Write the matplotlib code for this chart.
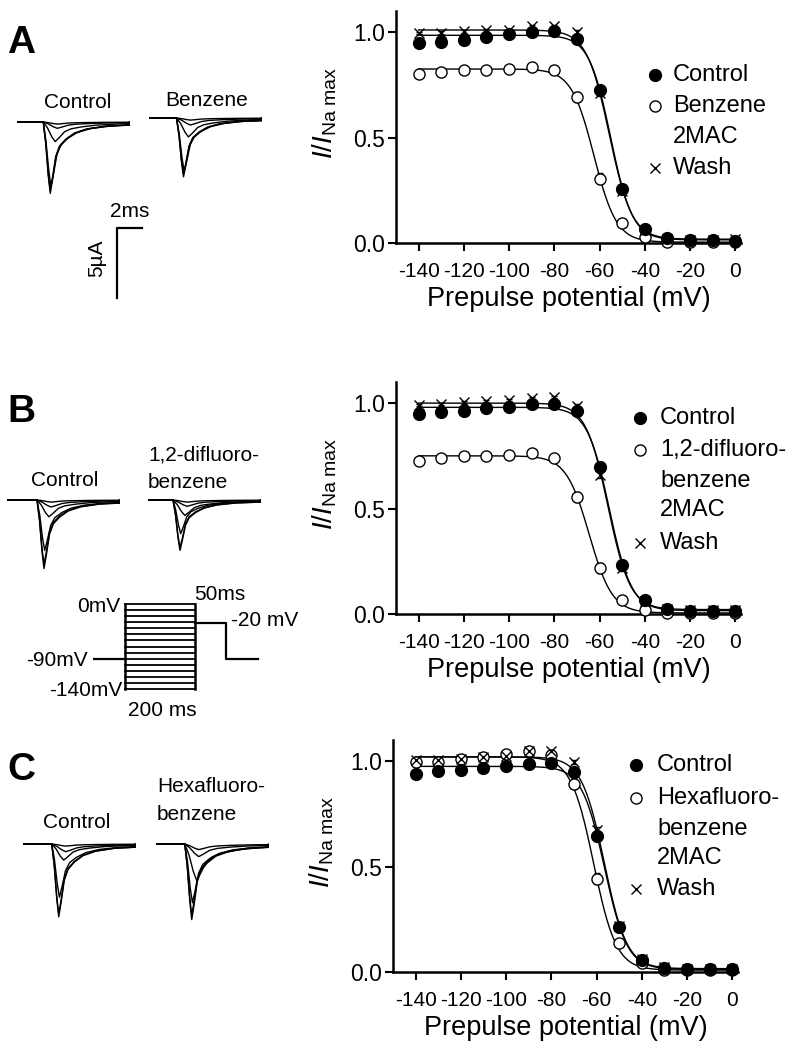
import numpy as np
import matplotlib
matplotlib.use('Agg')
from matplotlib import pyplot as plt

plt.rcParams['font.family'] = ['Liberation Sans', 'DejaVu Sans']
plt.rcParams['mathtext.fontset'] = 'custom'
plt.rcParams['mathtext.it'] = 'Liberation Sans:italic'
plt.rcParams['mathtext.rm'] = 'Liberation Sans'
plt.rcParams['axes.unicode_minus'] = False

W, H = 800, 1056

# ---- steady-state inactivation data (I/I_Na max vs prepulse, mV) ----
volts = [-140, -130, -120, -110, -100, -90, -80, -70, -60, -50, -40, -30, -20, -10, 0]

a_ctrl = [0.948, 0.954, 0.964, 0.976, 0.989, 1.0, 1.005, 0.968, 0.724, 0.256, 0.066, 0.024, 0.016, 0.013, 0.008]
a_drug = [0.803, 0.809, 0.818, 0.821, 0.826, 0.834, 0.821, 0.692, 0.305, 0.095, 0.028, 0.005, 0.004, 0.005, 0.004]
a_wash = [0.995, 0.998, 1.003, 1.008, 1.011, 1.03, 1.03, 1.0, 0.711, 0.245, 0.063, 0.019, 0.016, 0.016, 0.019]

b_ctrl = [0.948, 0.956, 0.964, 0.975, 0.981, 0.994, 0.997, 0.964, 0.695, 0.234, 0.065, 0.024, 0.016, 0.016, 0.016]
b_drug = [0.727, 0.739, 0.747, 0.75, 0.754, 0.761, 0.739, 0.555, 0.218, 0.065, 0.021, 0.005, 0.005, 0.005, 0.005]
b_wash = [0.992, 0.997, 1.003, 1.009, 1.016, 1.024, 1.028, 0.984, 0.66, 0.218, 0.06, 0.024, 0.021, 0.021, 0.021]

c_ctrl = [0.94, 0.951, 0.956, 0.967, 0.976, 0.987, 0.991, 0.948, 0.647, 0.211, 0.057, 0.019, 0.016, 0.013, 0.013]
c_drug = [0.995, 0.998, 1.008, 1.021, 1.035, 1.046, 1.027, 0.893, 0.443, 0.136, 0.041, 0.009, 0.009, 0.009, 0.009]
c_wash = [1.003, 1.003, 1.011, 1.019, 1.022, 1.047, 1.047, 0.995, 0.672, 0.218, 0.063, 0.022, 0.016, 0.016, 0.016]

# small SEMs, mostly hidden under the symbols
sem_ctrl = [0.01, 0.01, 0.01, 0.01, 0.01, 0.01, 0.01, 0.015, 0.02, 0.02, 0.01, 0.01, 0.005, 0.005, 0.005]
sem_drug = [0.01, 0.01, 0.01, 0.01, 0.01, 0.01, 0.015, 0.025, 0.025, 0.015, 0.01, 0.005, 0.005, 0.005, 0.005]
sem_wash = [0.005, 0.005, 0.005, 0.005, 0.005, 0.005, 0.005, 0.01, 0.015, 0.015, 0.01, 0.005, 0.005, 0.005, 0.005]

# Boltzmann fits: top, bottom, V1/2 (mV), slope k (mV)
a_fits = [[0.985, 0.015, -55.1, 4.8], [0.825, 0.004, -62.5, 5.0], [1.01, 0.018, -55.7, 5.0]]
b_fits = [[0.98, 0.016, -55.7, 4.9], [0.75, 0.005, -64.6, 5.1], [1.0, 0.021, -56.3, 4.9]]
c_fits = [[0.975, 0.013, -56.5, 5.0], [1.02, 0.009, -61.3, 5.0], [1.02, 0.016, -56.6, 5.0]]

a_names = ['Control', 'Benzene', '2MAC', 'Wash']
b_names = ['Control', '1,2-difluoro-', 'benzene', '2MAC', 'Wash']
c_names = ['Control', 'Hexafluoro-', 'benzene', '2MAC', 'Wash']

# ---- Na current traces ----
# normalised shape of the largest trace, time from onset (ms)
wave_t = [-3.0, 0.0, 0.2, 0.4, 0.56, 0.75, 1.0, 1.3, 1.8, 2.5, 3.5, 5.0, 7.2]
wave_i = [0.0, 0.0, -0.3, -0.75, -1.0, -0.8, -0.5, -0.35, -0.25, -0.16, -0.1, -0.06, -0.04]

# peak amplitudes (uA) and time stretch of each trace in a family
a_ctrl_amp = [5.1, 4.9, 4.6, 1.4, 0.45, 0.15]
a_drug_amp = [4.2, 4.0, 3.8, 1.35, 0.5, 0.15]
b_ctrl_amp = [4.9, 4.6, 3.6, 1.2, 0.5, 0.15]
b_drug_amp = [3.6, 3.4, 2.4, 1.1, 0.45, 0.15]
c_ctrl_amp = [5.2, 5.0, 3.8, 1.15, 0.55, 0.15]
c_drug_amp = [5.4, 5.1, 4.2, 2.6, 0.9, 0.4]
stretch = [1.0, 1.0, 1.1, 1.7, 2.0, 2.0]

# pulse protocol (schematic)
pre_levels = [0, -10, -20, -30, -40, -50, -60, -70, -80, -90, -100, -110, -120, -130, -140]
hold_mv = -90
test_mv = -32   # drawn level of the "-20 mV" step
t_pre = [0, 200]
t_hold = [-90, 0]
t_test = [200, 290]
t_end = 380


def box(left, top, width, height):
    return [left / W, 1 - (top + height) / H, width / W, height / H]


def fx(x):
    return x / W


def fy(y):
    return 1 - y / H


fig = plt.figure(figsize=(8, 10.56), dpi=100)


def traces(left, baseline, onset, amps):
    ax = fig.add_axes(box(left, baseline - 7, 112.5, 91))
    ax.set_xlim(0, 9)
    ax.set_ylim(-6, 0.5)
    ax.axis('off')
    for amp, s in zip(amps, stretch):
        t = onset + np.array(wave_t) * s
        ax.plot(np.r_[0, t, 9], np.r_[0, np.array(wave_i) * amp, wave_i[-1] * amp],
                color='k', lw=1.0)
    return ax


def iv_panel(rect, ctrl, drug, wash, fits, names, leg_x, leg_rows):
    ax = fig.add_axes(rect)
    vv = np.linspace(-140, 0, 400)
    for top, bot, vh, k in fits:
        ax.plot(vv, bot + (top - bot) / (1 + np.exp((vv - vh) / k)), color='k', lw=1.0, zorder=2)
    ax.errorbar(volts, ctrl, yerr=sem_ctrl, fmt='none', ecolor='k', elinewidth=0.8, capsize=2.5, zorder=3)
    ax.errorbar(volts, drug, yerr=sem_drug, fmt='none', ecolor='k', elinewidth=0.8, capsize=2.5, zorder=3)
    ax.errorbar(volts, wash, yerr=sem_wash, fmt='none', ecolor='k', elinewidth=0.8, capsize=2.5, zorder=3)
    ax.plot(volts, ctrl, 'o', ms=8.5, mfc='k', mec='k', ls='none', zorder=5, clip_on=False)
    ax.plot(volts, drug, 'o', ms=8.0, mfc='white', mec='k', mew=1.0, ls='none', zorder=4, clip_on=False)
    ax.plot(volts, wash, 'x', ms=7.5, mec='k', mew=1.0, ls='none', zorder=6, clip_on=False)

    ax.set_xlim(-150, 2.5)
    ax.set_ylim(0, 1.1)
    ax.set_xticks([-140, -120, -100, -80, -60, -40, -20, 0])
    ax.set_yticks([0.0, 0.5, 1.0])
    ax.set_yticklabels(['0.0', '0.5', '1.0'])
    ax.tick_params(axis='x', direction='out', length=6, width=1.5, labelsize=15, pad=8)
    ax.tick_params(axis='y', direction='out', length=6, width=1.5, labelsize=16.5, pad=2)
    for side in ['top', 'right']:
        ax.spines[side].set_visible(False)
    for side in ['left', 'bottom']:
        ax.spines[side].set_linewidth(1.8)
    ax.set_xlabel('Prepulse potential (mV)', fontsize=19.5, labelpad=3)
    ax.set_ylabel(r'$I/I_{\mathrm{Na\ max}}$', fontsize=20)
    ax.yaxis.set_label_coords(-0.165, 0.56)

    # legend drawn by hand (marker on first line of each entry)
    mx, tx = leg_x
    fig.add_artist(plt.Line2D([fx(mx)], [fy(leg_rows[0])], marker='o', ms=8.5, mfc='k', mec='k', ls='none'))
    fig.add_artist(plt.Line2D([fx(mx)], [fy(leg_rows[1])], marker='o', ms=8.0, mfc='white', mec='k', ls='none'))
    fig.add_artist(plt.Line2D([fx(mx)], [fy(leg_rows[-1])], marker='x', ms=7.5, mec='k', mew=1.0, ls='none'))
    for name, row in zip(names, leg_rows):
        fig.text(fx(tx), fy(row), name, fontsize=17, ha='left', va='center')
    return ax


# ---------------- panel A ----------------
fig.text(fx(7), fy(53), 'A', fontsize=28, weight='bold', ha='left', va='baseline')
traces(17, 122, 2.1, a_ctrl_amp)
traces(149, 118, 2.2, a_drug_amp)
fig.text(fx(78), fy(102), 'Control', fontsize=15, ha='center', va='center')
fig.text(fx(207), fy(100), 'Benzene', fontsize=15, ha='center', va='center')

# scale bar: 2 ms, 5 uA
sb = fig.add_axes(box(117, 228, 25, 70))
sb.set_xlim(0, 2)
sb.set_ylim(-5, 0)
sb.axis('off')
sb.plot([0, 0, 2], [-5, 0, 0], color='k', lw=1.6, clip_on=False)
fig.text(fx(130), fy(212), '2ms', fontsize=15, ha='center', va='center')
fig.text(fx(97), fy(258), '5µA', fontsize=15, ha='center', va='center', rotation=90)

iv_panel(box(396, 11, 345, 232), a_ctrl, a_drug, a_wash, a_fits, a_names,
         (655, 673), [75, 106, 137, 168])

# ---------------- panel B ----------------
fig.text(fx(7), fy(422), 'B', fontsize=28, weight='bold', ha='left', va='baseline')
traces(7, 500, 2.4, b_ctrl_amp)
traces(148, 500, 2.0, b_drug_amp)
fig.text(fx(65), fy(480), 'Control', fontsize=15, ha='center', va='center')
fig.text(fx(148), fy(455), '1,2-difluoro-', fontsize=15, ha='left', va='center')
fig.text(fx(148), fy(483), 'benzene', fontsize=15, ha='left', va='center')

# pulse protocol
pp = fig.add_axes(box(93, 604, 164.5, 85))
pp.set_xlim(t_hold[0], t_end)
pp.set_ylim(-140, 0)
pp.axis('off')
for lvl in pre_levels:
    pp.plot(t_pre, [lvl, lvl], color='k', lw=1.3, clip_on=False)
pp.plot([t_pre[0], t_pre[0]], [0, -140], color='k', lw=1.8, clip_on=False)
pp.plot([t_pre[1], t_pre[1]], [0, -140], color='k', lw=1.8, clip_on=False)
pp.plot(t_hold, [hold_mv, hold_mv], color='k', lw=1.6)
pp.plot([t_test[0], t_test[1], t_test[1], t_end], [test_mv, test_mv, hold_mv, hold_mv],
        color='k', lw=1.6, clip_on=False)
fig.text(fx(120), fy(607), '0mV', fontsize=15, ha='right', va='center')
fig.text(fx(88), fy(660), '-90mV', fontsize=15, ha='right', va='center')
fig.text(fx(122), fy(690), '-140mV', fontsize=15, ha='right', va='center')
fig.text(fx(194), fy(594), '50ms', fontsize=15, ha='left', va='center')
fig.text(fx(231), fy(621), '-20 mV', fontsize=15, ha='left', va='center')
fig.text(fx(162), fy(710), '200 ms', fontsize=15, ha='center', va='center')

iv_panel(box(396, 382, 345, 232), b_ctrl, b_drug, b_wash, b_fits, b_names,
         (640, 660), [418, 450, 481, 510, 543])

# ---------------- panel C ----------------
fig.text(fx(7), fy(780), 'C', fontsize=28, weight='bold', ha='left', va='baseline')
traces(23, 844, 2.3, c_ctrl_amp)
traces(156, 844, 2.3, c_drug_amp)
fig.text(fx(77), fy(823), 'Control', fontsize=15, ha='center', va='center')
fig.text(fx(157), fy(787), 'Hexafluoro-', fontsize=15, ha='left', va='center')
fig.text(fx(157), fy(815), 'benzene', fontsize=15, ha='left', va='center')

iv_panel(box(393, 740, 345, 232), c_ctrl, c_drug, c_wash, c_fits, c_names,
         (636, 657), [765, 798, 829, 858, 889])

fig.savefig('out.png', dpi=100)
